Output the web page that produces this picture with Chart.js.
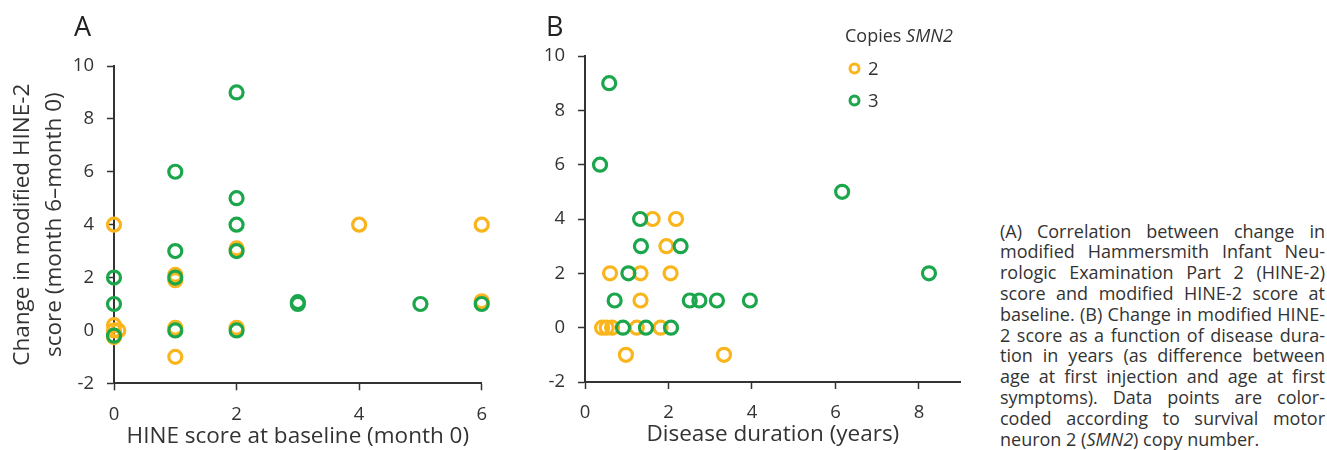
<!DOCTYPE html>
<html><head><meta charset="utf-8">
<script src="https://cdn.jsdelivr.net/npm/chart.js@4.4.1/dist/chart.umd.min.js"></script>
<style>
html,body{margin:0;padding:0;background:#fff;}
body{width:1327px;height:450px;position:relative;overflow:hidden;font-family:'Open Sans',sans-serif;color:#333;}
canvas{position:absolute;top:0;}
#cA{left:0;}
#cB{left:520px;}
.letter{position:absolute;font-size:27px;line-height:27px;color:#222;}
#legTitle{position:absolute;left:845px;top:23px;font-size:18px;line-height:24px;color:#333;white-space:nowrap;}
#caption{position:absolute;left:1000px;top:220.6px;width:325px;font-size:18px;line-height:20.8px;color:#333;}
#caption div{text-align:justify;text-align-last:justify;white-space:nowrap;}
#caption div.last{text-align:left;text-align-last:left;}
</style>
</head><body>
<canvas id="cA" width="500" height="450"></canvas>
<canvas id="cB" width="460" height="450"></canvas>
<div class="letter" style="left:74px;top:12px;">A</div>
<div class="letter" style="left:546px;top:12px;">B</div>
<div id="legTitle">Copies <i>SMN2</i></div>
<div id="caption">
<div>(A) Correlation between change in</div>
<div>modified Hammersmith Infant Neu-</div>
<div>rologic Examination Part 2 (HINE-2)</div>
<div>score and modified HINE-2 score at</div>
<div>baseline. (B) Change in modified HINE-</div>
<div>2 score as a function of disease dura-</div>
<div>tion in years (as difference between</div>
<div>age at first injection and age at first</div>
<div>symptoms). Data points are color-</div>
<div>coded according to survival motor</div>
<div class="last">neuron 2 (<i>SMN2</i>) copy number.</div>
</div>
<script>
// ---- Data ----
const copyLabels = ['2', '3'];

// Panel A: HINE score at baseline (x) vs change in modified HINE-2 (y)
const aBaseline2 = [0, 0, 0.07, 0, 0, 1, 1, 1, 1, 2, 2, 4, 6, 6];
const aChange2   = [4, 0.2, 0, 0, -0.25, 2.1, 1.9, 0.1, -1, 3.1, 0.1, 4, 4, 1.1];
const aBaseline3 = [0, 0, 0, 1, 1, 1, 1, 2, 2, 2, 2, 2, 3, 3, 5, 6];
const aChange3   = [2, 1, -0.2, 6, 3, 2, 0, 9, 5, 4, 3, 0, 1, 1.07, 1, 1];

// Panel B: disease duration in years (x) vs change in modified HINE-2 (y)
const bDuration2 = [0.41, 0.52, 0.65, 1.24, 1.81, 0.60, 1.33, 2.05, 1.33, 1.62, 2.18, 1.95, 0.98, 3.33];
const bChange2   = [0, 0, 0, 0, 0, 2, 2, 2, 1, 4, 4, 3, -1, -1];
const bDuration3 = [0.58, 0.36, 6.16, 8.24, 1.32, 1.34, 2.29, 1.04, 0.71, 2.51, 2.74, 3.16, 3.95, 0.91, 1.46, 2.06];
const bChange3   = [9, 6, 5, 2, 4, 3, 3, 2, 1, 1, 1, 1, 1, 0, 0, 0];

const aXTicks = [0, 2, 4, 6];
const bXTicks = [0, 2, 4, 6, 8];
const yTicks = [-2, 0, 2, 4, 6, 8, 10];

// ---- Styling ----
const ORANGE = '#F9B51B';
const GREEN = '#1CA64B';
const AXIS = '#333333';
const FONT = "'Open Sans', sans-serif";
Chart.defaults.font.family = FONT;
Chart.defaults.color = AXIS;

function pts(xs, ys) { return xs.map((x, i) => ({x: x, y: ys[i]})); }

function ds(label, data, color, order) {
  return {
    label: label, data: data, order: order,
    borderColor: color, backgroundColor: 'rgba(0,0,0,0)',
    pointBorderColor: color, pointBackgroundColor: 'rgba(0,0,0,0)',
    pointRadius: 6.5, pointHoverRadius: 6.5, pointBorderWidth: 3.2, pointHoverBorderWidth: 3.2,
    showLine: false, clip: false
  };
}

function linAxis(min, max, tickVals, extra) {
  const ax = {
    type: 'linear', min: min, max: max,
    afterBuildTicks: (s) => { s.ticks = tickVals.map(v => ({value: v})); },
    ticks: {font: {size: 18.5}, color: AXIS, padding: 13, autoSkip: false, maxRotation: 0},
    grid: {drawOnChartArea: false, drawTicks: true, tickLength: 7, tickColor: AXIS, tickWidth: 1.5},
    border: {display: true, color: AXIS, width: 2}
  };
  return Object.assign(ax, extra || {});
}

const legendPlugin = {
  id: 'copiesLegend',
  afterDraw(chart, args, opts) {
    if (!opts || !opts.show) return;
    const ctx = chart.ctx;
    chart.data.datasets.forEach((d, i) => {
      const y = opts.y0 + i * opts.dy;
      ctx.save();
      ctx.beginPath();
      ctx.arc(opts.x, y, opts.r, 0, Math.PI * 2);
      ctx.lineWidth = opts.lw;
      ctx.strokeStyle = d.borderColor;
      ctx.stroke();
      ctx.fillStyle = AXIS;
      ctx.font = "18.5px " + FONT;
      ctx.textBaseline = 'middle';
      ctx.textAlign = 'left';
      ctx.fillText(d.label, opts.x + opts.gap, y + 1);
      ctx.restore();
    });
  }
};

// ---- Panel A ----
new Chart(document.getElementById('cA'), {
  type: 'scatter',
  data: {datasets: [
    ds(copyLabels[0], pts(aBaseline2, aChange2), ORANGE, 2),
    ds(copyLabels[1], pts(aBaseline3, aChange3), GREEN, 1)
  ]},
  options: {
    responsive: false, animation: false, devicePixelRatio: 1,
    layout: {padding: {left: 0, top: 66, right: 13, bottom: 0}},
    plugins: {legend: {display: false}, tooltip: {enabled: false}},
    scales: {
      x: linAxis(0, 6, aXTicks, {
        title: {display: true, text: 'HINE score at baseline (month 0)', color: AXIS,
                font: {size: 22.5, lineHeight: 1.2}, padding: {top: 0, bottom: 0}},
        afterFit: (s) => { s.height = 450 - 383.3; }
      }),
      y: linAxis(-2, 10, yTicks, {
        title: {display: true, text: ['Change in modified HINE-2', 'score (month 6\u2013month 0)'], color: AXIS,
                font: {size: 22.5, lineHeight: 1.42}, padding: {top: 7, bottom: 0}},
        afterFit: (s) => { s.width = 114; }
      })
    }
  }
});

// ---- Panel B ----
new Chart(document.getElementById('cB'), {
  type: 'scatter',
  data: {datasets: [
    ds(copyLabels[0], pts(bDuration2, bChange2), ORANGE, 2),
    ds(copyLabels[1], pts(bDuration3, bChange3), GREEN, 1)
  ]},
  options: {
    responsive: false, animation: false, devicePixelRatio: 1,
    layout: {padding: {left: 0, top: 56, right: 19.3, bottom: 0}},
    plugins: {legend: {display: false}, tooltip: {enabled: false},
              copiesLegend: {show: true, x: 334.5, y0: 68.5, dy: 32, r: 4.5, lw: 3, gap: 13.5}},
    scales: {
      x: linAxis(0, 9, bXTicks, {
        title: {display: true, text: 'Disease duration (years)', color: AXIS,
                font: {size: 22.5, lineHeight: 1.2}, padding: {top: 0, bottom: 2}},
        afterFit: (s) => { s.height = 450 - 382; }
      }),
      y: linAxis(-2, 10, yTicks, {
        afterFit: (s) => { s.width = 65; }
      })
    }
  },
  plugins: [legendPlugin]
});
</script>
</body></html>
